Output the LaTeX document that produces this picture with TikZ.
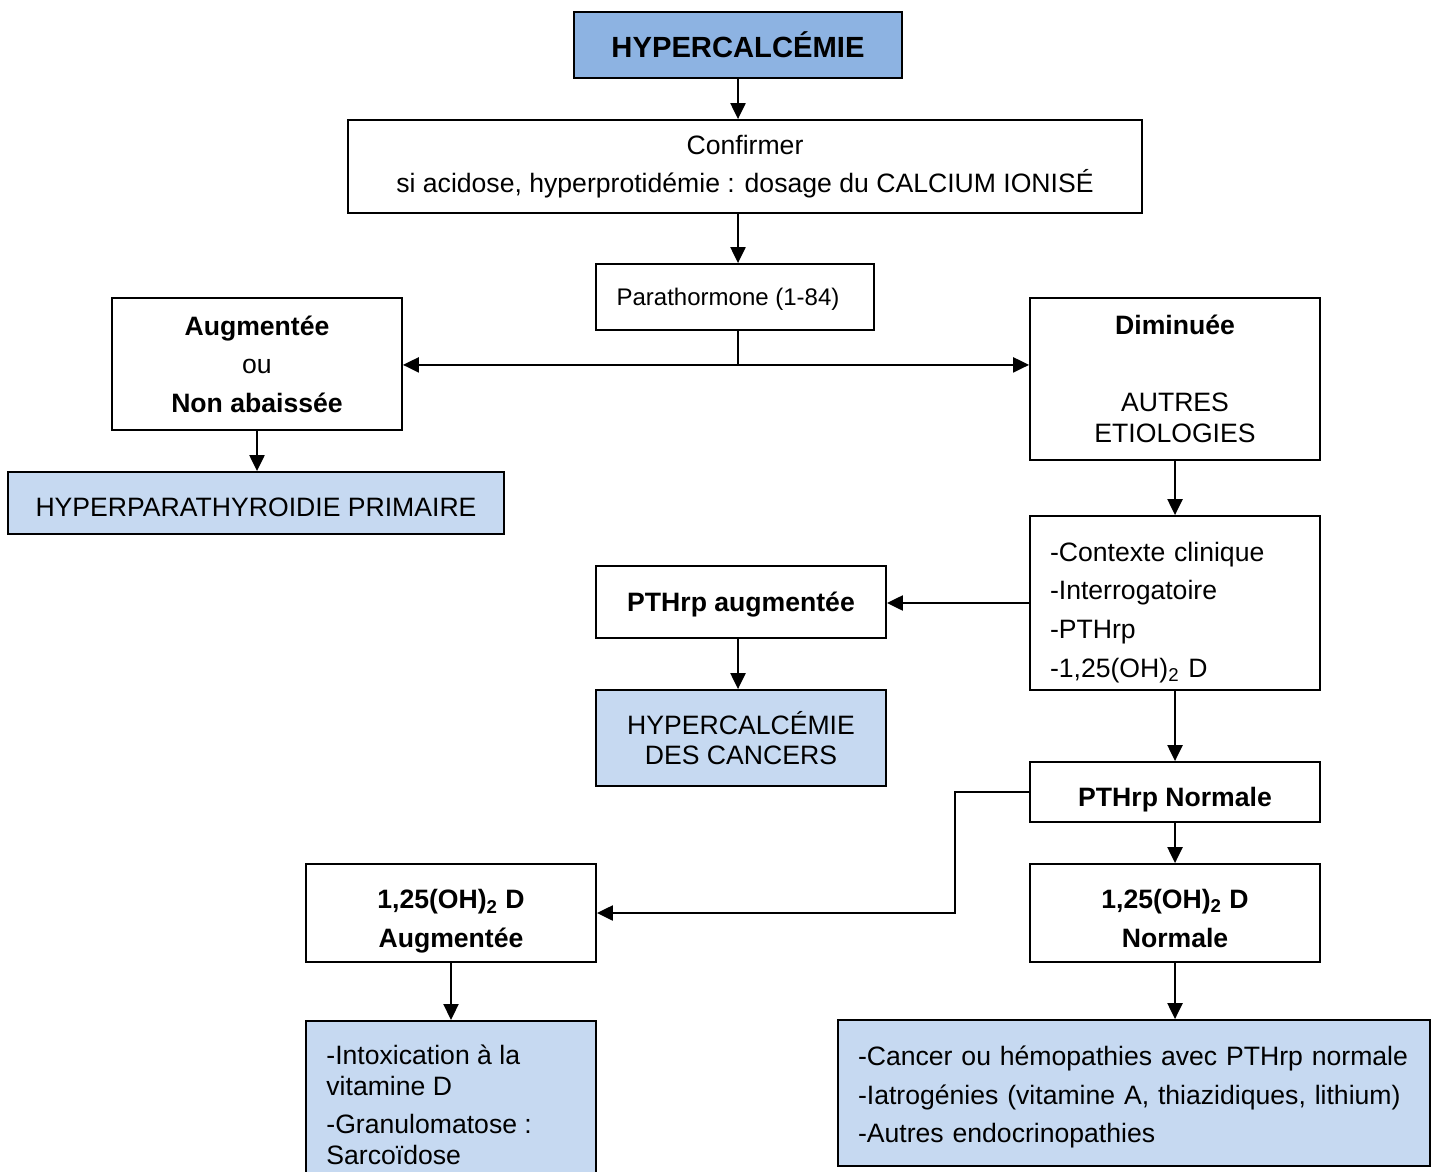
\documentclass[tikz,border=0pt]{standalone}
\usepackage{fontspec}
\setmainfont{Liberation Sans}
\usetikzlibrary{arrows.meta}
\definecolor{darkblue}{HTML}{8DB3E2}
\definecolor{lightblue}{HTML}{C6D9F1}
\newcommand\lift[1]{\rule{0pt}{#1}}
\tikzset{
  box/.style={draw=black, line width=0.9pt, rectangle, inner sep=0pt, align=center,
    font=\fontsize{13.3}{19.3}\selectfont},
  arr/.style={line width=1.1pt, -{Triangle[length=8pt,width=7.5pt]}},
  ln/.style={line width=1.1pt}
}
\begin{document}
\begin{tikzpicture}[x=0.5pt,y=-0.5pt]
\useasboundingbox (0,0) rectangle (1438,1171);
\clip (0,0) rectangle (1438,1171);
\node[box, fill=darkblue, minimum width=164pt, minimum height=33pt, font=\fontsize{14.6}{18}\selectfont\bfseries] (hyper) at (738,45) {HYPERCALCÉMIE};
\node[box, minimum width=397pt, minimum height=46.5pt] (conf) at (745,166.5) {Confirmer\\si acidose, hyperprotidémie : dosage du CALCIUM IONISÉ};
\node[box, minimum width=139pt, minimum height=33pt, font=\fontsize{12}{14}\selectfont] (para) at (735,297) {\lift{11pt}Parathormone (1-84)\hspace*{7pt}};
\node[box, minimum width=145pt, minimum height=66pt] (aug) at (257,364) {\textbf{Augmentée}\\ou\\\textbf{Non abaissée}};
\node[box, fill=lightblue, minimum width=248pt, minimum height=31pt] (hpp) at (256,503) {\lift{14pt}HYPERPARATHYROIDIE PRIMAIRE};
\node[box, minimum width=145pt, minimum height=81pt] (dim) at (1175,379) {\textbf{Diminuée}\\[19.3pt]AUTRES\\[-4pt]ETIOLOGIES};
\node[box, minimum width=145pt, minimum height=87pt, text width=125pt, align=left] (ctx) at (1175,603) {\lift{19pt}-Contexte clinique\\-Interrogatoire\\-PTHrp\\-1,25(OH)\textsubscript{2} D};
\node[box, minimum width=145pt, minimum height=36pt, font=\fontsize{13.3}{19.3}\selectfont\bfseries] (pthaug) at (741,602) {\lift{12pt}PTHrp augmentée};
\node[box, fill=lightblue, minimum width=145pt, minimum height=48pt, font=\fontsize{13.3}{15}\selectfont] (canc) at (741,738) {HYPERCALCÉMIE\\DES CANCERS};
\node[box, minimum width=145pt, minimum height=30pt, font=\fontsize{13.3}{19.3}\selectfont\bfseries] (pthn) at (1175,792) {\lift{17pt}PTHrp Normale};
\node[box, minimum width=145pt, minimum height=49pt, font=\fontsize{13.3}{19.3}\selectfont\bfseries] (daug) at (451,913) {\lift{18pt}1,25(OH)\textsubscript{2} D\\Augmentée};
\node[box, minimum width=145pt, minimum height=49pt, font=\fontsize{13.3}{19.3}\selectfont\bfseries] (dnorm) at (1175,913) {\lift{15pt}1,25(OH)\textsubscript{2} D\\Normale};
\node[box, fill=lightblue, minimum width=145pt, minimum height=90pt, anchor=north] (bl) at (451,1020) {};
\node[inner sep=0pt, anchor=north west, align=left, font=\fontsize{13.3}{15.5}\selectfont] (bltext) at (326,1044) {-Intoxication à la\\vitamine D\\[3.5pt]-Granulomatose :\\Sarcoïdose};
\node[box, fill=lightblue, minimum width=296pt, minimum height=73pt, text width=276pt, align=left] (br) at (1134,1093) {\lift{14pt}-Cancer ou hémopathies avec PTHrp normale\\-Iatrogénies (vitamine A, thiazidiques, lithium)\\-Autres endocrinopathies};
\draw[arr] (hyper.south) -- (hyper.south |- conf.north);
\draw[arr] (conf.south -| hyper.south) -- (para.north -| hyper.south);
\draw[ln] (para.south -| hyper.south) -- ++(0,34) coordinate (j);
\draw[arr] (j) -- (aug.east |- j);
\draw[arr] (j) -- (dim.west |- j);
\draw[arr] (aug.south) -- (hpp.north -| aug.south);
\draw[arr] (dim.south) -- (ctx.north);
\draw[arr] (ctx.west) -- (pthaug.east |- ctx.west);
\draw[arr] (pthaug.south -| hyper.south) -- (canc.north -| hyper.south);
\draw[arr] (ctx.south) -- (pthn.north);
\draw[arr] (pthn.south) -- (dnorm.north);
\draw[arr] (pthn.west) -- (955,792) coordinate (k1) -- (k1 |- daug.east) -- (daug.east);
\draw[arr] (daug.south) -- (bl.north);
\draw[arr] (dnorm.south) -- (dnorm.south |- br.north);
\end{tikzpicture}
\end{document}
